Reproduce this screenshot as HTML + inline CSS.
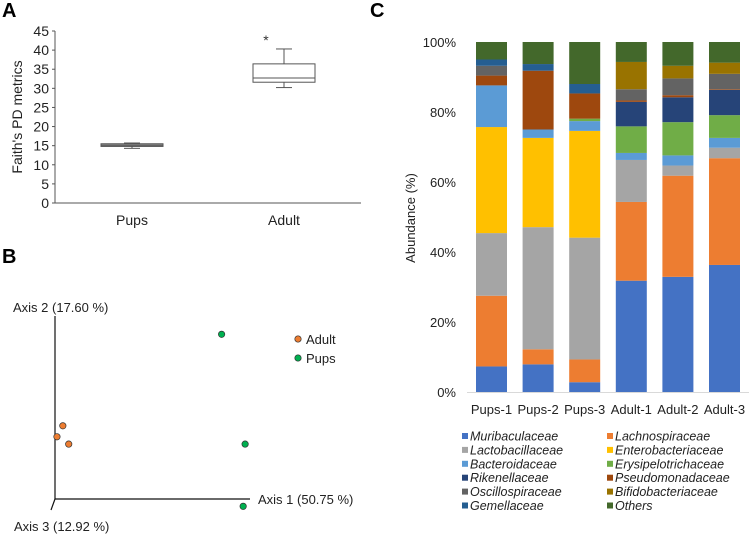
<!DOCTYPE html>
<html><head><meta charset="utf-8"><style>
body{margin:0;background:#fff;}
svg text{font-family:"Liberation Sans",Arial,sans-serif;}
</style></head><body>
<svg id="fig" width="749" height="534" xmlns="http://www.w3.org/2000/svg">
<text x="2" y="17" font-size="20" font-weight="bold">A</text>
<text x="2" y="263" font-size="20" font-weight="bold">B</text>
<text x="370" y="17" font-size="20" font-weight="bold">C</text>
<g id="pa"></g>
<g id="pb"></g>
<g id="pc"></g>
</svg>
<script>
const NS="http://www.w3.org/2000/svg";
// Panel A data
const boxGroups=["Pups","Adult"];
const boxMin=[14.3,30.2];
const boxQ1=[14.8,31.6];
const boxMed=[15.1,32.7];
const boxQ3=[15.5,36.4];
const boxMax=[15.7,40.3];
const aTicks=[0,5,10,15,20,25,30,35,40,45];
// Panel B data
const pcoaGroups=["Adult","Adult","Adult","Pups","Pups","Pups"];
const pcoaX=[0.04,0.01,0.07,0.85,0.97,0.96];
const pcoaY=[0.40,0.34,0.30,0.90,0.30,-0.04];
// Panel C data
const samples=["Pups-1","Pups-2","Pups-3","Adult-1","Adult-2","Adult-3"];
const taxa=["Muribaculaceae","Lachnospiraceae","Lactobacillaceae","Enterobacteriaceae","Bacteroidaceae","Erysipelotrichaceae","Rikenellaceae","Pseudomonadaceae","Oscillospiraceae","Bifidobacteriaceae","Gemellaceae","Others"];
const taxaColors=["#4472c4","#ed7d31","#a5a5a5","#ffc000","#5b9bd5","#70ad47","#264478","#9e480e","#636363","#997300","#255e91","#43682b"];
const muri=[7.3,7.9,2.8,31.8,32.9,36.3];
const lach=[20.2,4.3,6.5,22.5,28.9,30.5];
const lacto=[17.9,34.9,34.8,12,2.9,3];
const entero=[30.3,25.5,30.5,0,0,0];
const bactero=[11.9,2.4,2.8,2,2.9,2.8];
const erysi=[0,0,0.7,7.6,9.5,6.5];
const riken=[0,0,0,7,7.1,7.2];
const pseudo=[2.8,16.8,7.2,0.4,0.6,0.2];
const oscillo=[2.8,0,0,3.2,4.8,4.4];
const bifido=[0,0,0,7.8,3.6,3.2];
const gemel=[1.8,1.9,2.7,0,0,0];
const others=[5,6.3,12,5.7,6.8,5.9];
const cTicks=[0,20,40,60,80,100];
const series=[muri,lach,lacto,entero,bactero,erysi,riken,pseudo,oscillo,bifido,gemel,others];

function mk(parent,tag,attrs,text){const e=document.createElementNS(NS,tag);for(const k in attrs)e.setAttribute(k,attrs[k]);if(text!==undefined)e.textContent=text;parent.appendChild(e);return e;}

// ---- Panel A
const pa=document.getElementById('pa');
const ay=v=>203-(v/45)*172;
const ax=i=>[132,284][i];
let e=mk(pa,'line',{x1:55,y1:31,x2:55,y2:203,stroke:'#555','stroke-width':1});

e=mk(pa,'line',{x1:55,y1:203,x2:361,y2:203,stroke:'#555','stroke-width':1});

aTicks.forEach(t=>{
 mk(pa,'line',{x1:52,y1:ay(t),x2:55,y2:ay(t),stroke:'#555'});
 e=mk(pa,'text',{x:49,y:ay(t)+5,'font-size':14,'text-anchor':'end',fill:'#222'},t);
 
});
e=mk(pa,'text',{x:0,y:0,'font-size':14,'text-anchor':'middle',fill:'#222',transform:'translate(22,117) rotate(-90)'},"Faith's PD metrics");

boxGroups.forEach((g,i)=>{
 const cx=ax(i),hw=31;
 const grp=mk(pa,'g',{});
 
 mk(grp,'line',{x1:cx,y1:ay(boxMax[i]),x2:cx,y2:ay(boxQ3[i]),stroke:'#555'});
 mk(grp,'line',{x1:cx,y1:ay(boxMin[i]),x2:cx,y2:ay(boxQ1[i]),stroke:'#555'});
 mk(grp,'line',{x1:cx-8,y1:ay(boxMax[i]),x2:cx+8,y2:ay(boxMax[i]),stroke:'#555'});
 mk(grp,'line',{x1:cx-8,y1:ay(boxMin[i]),x2:cx+8,y2:ay(boxMin[i]),stroke:'#555'});
 mk(grp,'rect',{x:cx-hw,y:ay(boxQ3[i]),width:hw*2,height:ay(boxQ1[i])-ay(boxQ3[i]),fill:i==0?'#999':'#fff',stroke:'#555'});
 mk(grp,'line',{x1:cx-hw,y1:ay(boxMed[i]),x2:cx+hw,y2:ay(boxMed[i]),stroke:'#555'});
 e=mk(pa,'text',{x:cx,y:225,'font-size':14,'text-anchor':'middle',fill:'#222'},g);
 
});
e=mk(pa,'text',{x:266,y:45,'font-size':14,'text-anchor':'middle',fill:'#333'},'*');


// ---- Panel B
const pb=document.getElementById('pb');
const bx=v=>55+v*196, by=v=>499-v*183;
mk(pb,'line',{x1:55,y1:316,x2:55,y2:499,stroke:'#111','stroke-width':1.2});
mk(pb,'line',{x1:55,y1:499,x2:250,y2:499,stroke:'#111','stroke-width':1.2});
mk(pb,'line',{x1:55,y1:499,x2:51,y2:510,stroke:'#111','stroke-width':1.2});
e=mk(pb,'text',{x:13,y:312,'font-size':13,fill:'#222'},'Axis 2 (17.60 %)');

e=mk(pb,'text',{x:258,y:504,'font-size':13,fill:'#222'},'Axis 1 (50.75 %)');

e=mk(pb,'text',{x:14,y:531,'font-size':13,fill:'#222'},'Axis 3 (12.92 %)');

const pcol={Adult:'#ed7d31',Pups:'#00b050'};
pcoaX.forEach((v,i)=>{
 e=mk(pb,'circle',{cx:bx(v),cy:by(pcoaY[i]),r:3.2,fill:pcol[pcoaGroups[i]],stroke:'#333','stroke-width':0.7});
 
 
});
["Adult","Pups"].forEach((g,i)=>{
 e=mk(pb,'circle',{cx:298,cy:339+i*19,r:3.2,fill:pcol[g],stroke:'#333','stroke-width':0.7});
 
 e=mk(pb,'text',{x:306,y:344+i*19,'font-size':13,fill:'#222'},g);
 
});

// ---- Panel C
const pc=document.getElementById('pc');
const cy=v=>392-v*3.5;
const cx=i=>491.5+i*46.6;
const bw=31;
cTicks.forEach(t=>{
 e=mk(pc,'text',{x:456,y:cy(t)+5,'font-size':13,'text-anchor':'end',fill:'#222'},t+'%');
 
});
e=mk(pc,'line',{x1:467,y1:392.5,x2:749,y2:392.5,stroke:'#d9d9d9'});

e=mk(pc,'text',{x:0,y:0,'font-size':13,'text-anchor':'middle',fill:'#222',transform:'translate(415,218) rotate(-90)'},'Abundance  (%)');

samples.forEach((s,i)=>{
 let acc=0;
 series.forEach((arr,k)=>{
  const v=arr[i];
  if(v>0){
   e=mk(pc,'rect',{x:cx(i)-bw/2,y:cy(acc+v),width:bw,height:v*3.5,fill:taxaColors[k]});
   
   
  }
  acc+=v;
 });
 e=mk(pc,'text',{x:cx(i),y:414,'font-size':13,'text-anchor':'middle',fill:'#222'},s);
 
});
taxa.forEach((t,k)=>{
 const col=k%2,row=Math.floor(k/2);
 const x=col?607:462,y=436+row*13.9;
 e=mk(pc,'rect',{x:x,y:y-3,width:6,height:6,fill:taxaColors[k]});
 
 e=mk(pc,'text',{x:x+8,y:y+4.5,'font-size':12.5,'font-style':'italic',fill:'#222'},t);
 
});
</script>
</body></html>
